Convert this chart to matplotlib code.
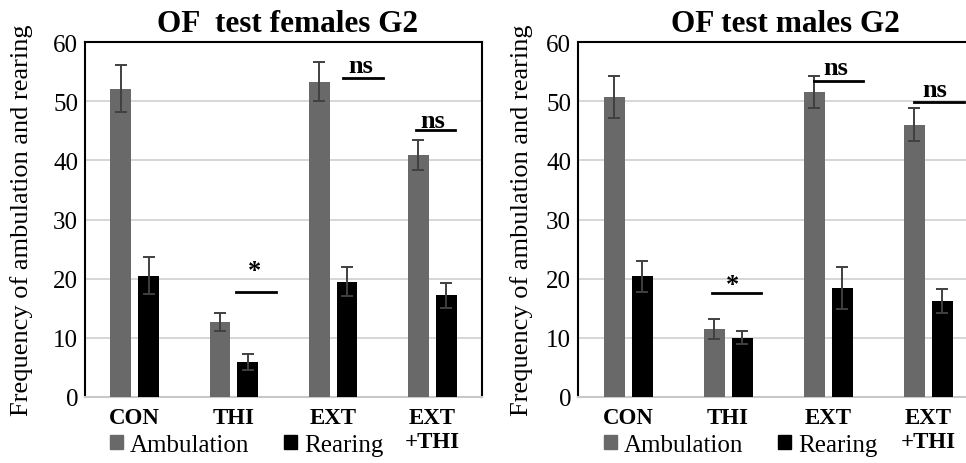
import matplotlib
matplotlib.use('Agg')
import matplotlib.pyplot as plt
from matplotlib.patches import Patch
import numpy as np

plt.rcParams['font.family'] = ['Liberation Serif', 'DejaVu Serif']

groups = ["CON", "THI", "EXT", "EXT\n+THI"]
series = ["Ambulation", "Rearing"]

# females G2
fem_amb = [52.1, 12.7, 53.3, 40.9]
fem_amb_err = [4.0, 1.5, 3.3, 2.5]
fem_rear = [20.5, 5.9, 19.5, 17.2]
fem_rear_err = [3.1, 1.4, 2.5, 2.1]

# males G2
mal_amb = [50.7, 11.5, 51.6, 46.0]
mal_amb_err = [3.5, 1.7, 2.7, 2.8]
mal_rear = [20.4, 10.0, 18.4, 16.2]
mal_rear_err = [2.6, 1.1, 3.5, 2.0]

# significance marks: (label, x0, x1, line y, text x, text y)
fem_sig = [("*", 1.02, 1.42, 17.8, 1.21, 20.3),
           ("ns", 2.10, 2.50, 54.0, 2.28, 55.0),
           ("ns", 2.84, 3.23, 45.2, 3.00, 45.6)]
mal_sig = [("*", 0.84, 1.33, 17.6, 1.05, 17.9),
           ("ns", 1.86, 2.35, 53.4, 2.08, 54.6),
           ("ns", 2.86, 3.36, 49.9, 3.07, 50.9)]

AMB_COLOR = "#696969"
REAR_COLOR = "#000000"
W = 966
H = 464


def panel(ax, title, amb, amb_err, rear, rear_err, sig, title_x, ylab_x, leg_x):
    x = np.arange(len(groups))
    ekw = dict(ecolor="#404040", elinewidth=1.4, capsize=4.5, capthick=1.4)
    ax.bar(x - 0.14, amb, 0.21, color=AMB_COLOR, yerr=amb_err, error_kw=ekw, zorder=3)
    ax.bar(x + 0.14, rear, 0.21, color=REAR_COLOR, yerr=rear_err, error_kw=ekw, zorder=3)

    ax.set_xlim(-0.5, 3.5)
    ax.set_ylim(0, 60)
    ax.set_yticks(range(0, 61, 10))
    ax.set_xticks(x)
    ax.set_xticklabels(groups, fontweight="bold", fontsize=16.5, linespacing=1.2)
    ax.tick_params(axis="both", length=0)
    ax.tick_params(axis="y", labelsize=18, pad=5)
    ax.tick_params(axis="x", pad=7)
    ax.yaxis.grid(True, color="#d0d0d0", lw=1.2, zorder=0)
    ax.set_axisbelow(True)
    for s in ["left", "top", "right"]:
        ax.spines[s].set_color("black")
        ax.spines[s].set_linewidth(1.5)
    ax.spines["bottom"].set_color("#c8c8c8")
    ax.spines["bottom"].set_linewidth(1.5)

    ax.set_title(title, fontsize=22.5, fontweight="bold", x=title_x, pad=8)
    ax.set_ylabel("Frequency of ambulation and rearing", fontsize=19)
    ax.yaxis.set_label_coords(ylab_x, 0.5)

    for lab, x0, x1, ly, tx, ty in sig:
        ax.plot([x0, x1], [ly, ly], color="black", lw=2, zorder=4, clip_on=False)
        ax.text(tx, ty, lab, ha="center", va="baseline", fontsize=19,
                fontweight="bold", zorder=4)

    handles = [Patch(color=AMB_COLOR, label=series[0]),
               Patch(color=REAR_COLOR, label=series[1])]
    ax.legend(handles=handles, ncol=2, loc="center left",
              bbox_to_anchor=(leg_x, -0.135), frameon=False, fontsize=18,
              handlelength=0.5, handleheight=0.5, handletextpad=0.3,
              columnspacing=1.4, borderpad=0, borderaxespad=0)


fig = plt.figure(figsize=(W / 100, H / 100), dpi=100)
ax1 = fig.add_axes([85 / W, 1 - 398 / H, 397 / W, 355 / H])
ax2 = fig.add_axes([578 / W, 1 - 398 / H, 400 / W, 355 / H])

panel(ax1, "OF  test females G2", fem_amb, fem_amb_err, fem_rear, fem_rear_err,
      fem_sig, 0.509, -0.131, 0.063)
panel(ax2, "OF test males G2", mal_amb, mal_amb_err, mal_rear, mal_rear_err,
      mal_sig, 0.518, -0.1125, 0.065)

fig.savefig("out.png", dpi=100)
